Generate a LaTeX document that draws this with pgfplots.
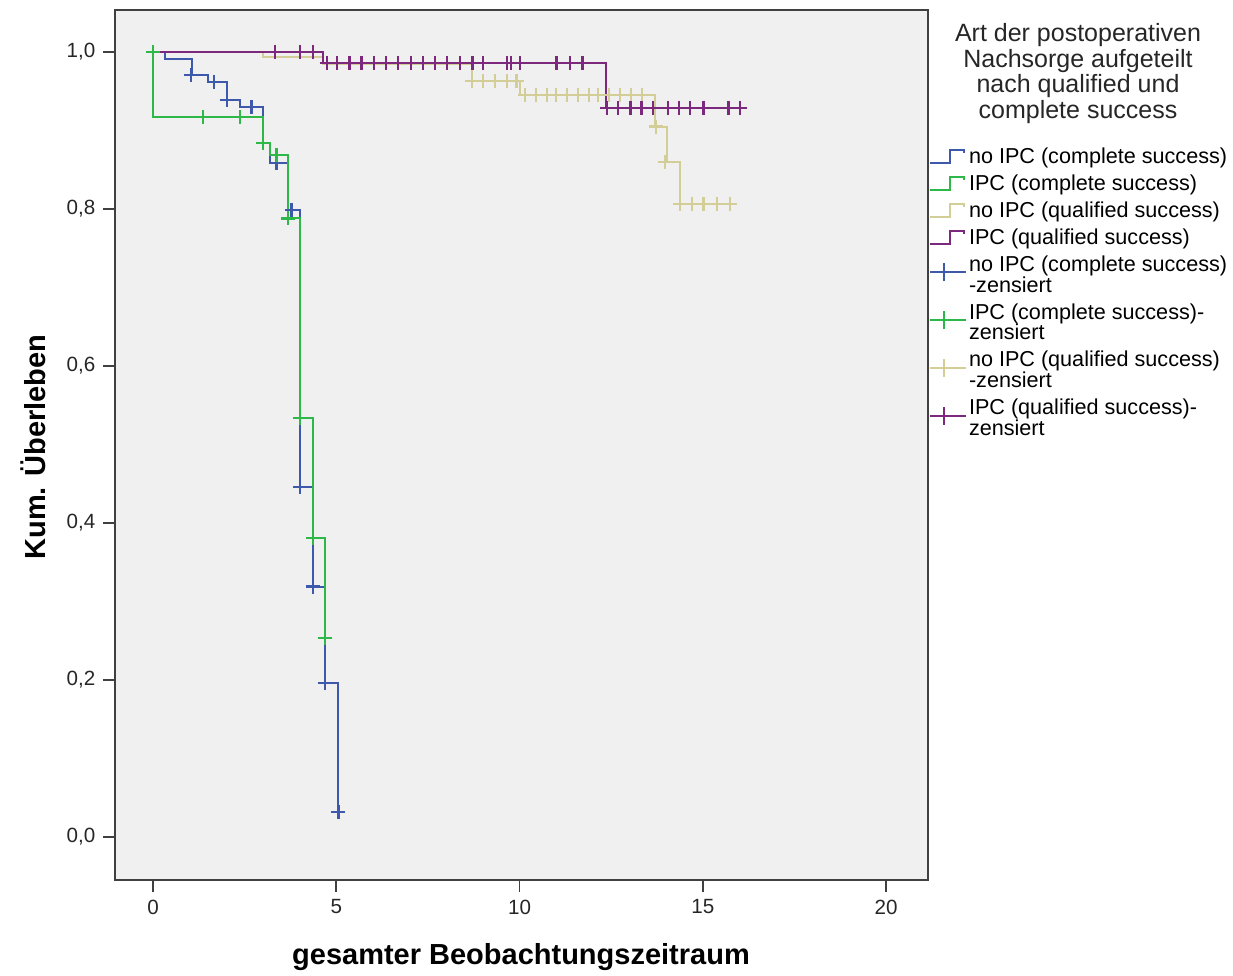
\documentclass[border=0pt]{standalone}
\usepackage{fontspec}
\setmainfont{Liberation Sans}
\usepackage{pgfplots}
\pgfplotsset{compat=1.18}
\definecolor{cblue}{HTML}{3E58AC}
\definecolor{cgreen}{HTML}{2EB848}
\definecolor{cbeige}{HTML}{D3CE97}
\definecolor{cpurple}{HTML}{7C287D}
\definecolor{bgc}{HTML}{F0F0F0}
\definecolor{framec}{HTML}{404040}
\begin{document}
\begin{tikzpicture}
\begin{axis}[name=ax, scale only axis, width=406.5pt, height=435pt,
  xmin=-1.037, xmax=21.146, ymin=-0.0548, ymax=1.0535,
  axis background/.style={fill=bgc},
  axis line style={framec, line width=1pt},
  xtick={0,5,10,15,20}, ytick={0,0.2,0.4,0.6,0.8,1.0},
  tick align=outside, major tick length=6pt,
  tick style={framec, line width=0.8pt},
  xtick pos=bottom, ytick pos=left,
  tick label style={font=\fontsize{10.3}{12}\selectfont, text=black!85},
  /pgf/number format/assume math mode=true,
  yticklabel style={/pgf/number format/.cd, fixed, fixed zerofill, precision=1, use comma},
  xlabel={gesamter Beobachtungszeitraum}, ylabel={Kum. Überleben},
  label style={font=\bfseries\fontsize{14.5}{16}\selectfont},
  xlabel style={at={(axis description cs:0.4994,-0.0885)}, anchor=center},
  ylabel style={at={(axis description cs:-0.1010,0.4977)}, anchor=center},
  legend cell align=left,
  legend style={at={(axis description cs:1.0,0.8455)}, anchor=north west, draw=none, fill=none,
    font=\fontsize{10.8}{9}\selectfont, inner sep=0pt, row sep=2.2pt, cells={align=left},
    nodes={inner sep=1pt}},
  line width=1pt,
]
% survival curves
\addplot[const plot, cblue, legend image code/.code={\draw[cblue,line width=1pt] (0pt,-3.3pt) -- (10pt,-3.3pt) -- (10pt,3.3pt) -- (17pt,3.3pt) -- (17pt,1.8pt);}]
 coordinates {(0,1.0) (0.33,0.991) (1.06,0.971) (1.51,0.962) (2.01,0.939) (2.37,0.930) (3.01,0.884) (3.2,0.859) (3.68,0.799) (4.01,0.446) (4.37,0.319) (4.69,0.196) (5.06,0.032) (5.07,0.032)};
\addlegendentry{no IPC (complete success)}
\addplot[const plot, cgreen, legend image code/.code={\draw[cgreen,line width=1pt] (0pt,-3.3pt) -- (10pt,-3.3pt) -- (10pt,3.3pt) -- (17pt,3.3pt) -- (17pt,1.8pt);}]
 coordinates {(0,1.0) (0,0.917) (3.01,0.884) (3.2,0.869) (3.68,0.788) (4.01,0.534) (4.37,0.381) (4.69,0.254) (4.87,0.254)};
\addlegendentry{IPC (complete success)}
\addplot[const plot, cbeige, legend image code/.code={\draw[cbeige,line width=1pt] (0pt,-3.3pt) -- (10pt,-3.3pt) -- (10pt,3.3pt) -- (17pt,3.3pt) -- (17pt,1.8pt);}]
 coordinates {(0,1.0) (3.01,0.993) (4.65,0.985) (8.7,0.963) (10.0,0.945) (13.7,0.905) (14.02,0.860) (14.38,0.806) (15.8,0.806)};
\addlegendentry{no IPC (qualified success)}
\addplot[const plot, cpurple, legend image code/.code={\draw[cpurple,line width=1pt] (0pt,-3.3pt) -- (10pt,-3.3pt) -- (10pt,3.3pt) -- (17pt,3.3pt) -- (17pt,1.8pt);}]
 coordinates {(0,1.0) (4.65,0.986) (12.35,0.929) (16.2,0.929)};
\addlegendentry{IPC (qualified success)}
% censored marks
\addplot[only marks, mark=+, mark size=3.5pt, cblue, mark options={line width=1.1pt},
  legend image code/.code={\draw[cblue,line width=1pt] (0pt,1.5pt) -- (18pt,1.5pt); \draw[cblue,line width=1pt] (7pt,-3pt) -- (7pt,6pt);}]
 coordinates {(1.04,0.971) (1.66,0.962) (2.01,0.939) (2.69,0.930) (3.01,0.884) (3.37,0.859) (3.78,0.799) (4.01,0.446) (4.37,0.319) (4.69,0.196) (5.06,0.032)};
\addlegendentry{no IPC (complete success)\\[-0.7pt]-zensiert}
\addplot[only marks, mark=+, mark size=3.5pt, cgreen, mark options={line width=1.1pt},
  legend image code/.code={\draw[cgreen,line width=1pt] (0pt,1.5pt) -- (18pt,1.5pt); \draw[cgreen,line width=1pt] (7pt,-3pt) -- (7pt,6pt);}]
 coordinates {(0,1.0) (1.37,0.917) (2.37,0.917) (3.01,0.884) (3.37,0.869) (3.68,0.788) (4.01,0.534) (4.37,0.381) (4.69,0.254)};
\addlegendentry{IPC (complete success)-\\[-0.7pt]zensiert}
\addplot[only marks, mark=+, mark size=3.5pt, cbeige, mark options={line width=1.1pt},
  legend image code/.code={\draw[cbeige,line width=1pt] (0pt,1.5pt) -- (18pt,1.5pt); \draw[cbeige,line width=1pt] (7pt,-3pt) -- (7pt,6pt);}]
 coordinates {(8.70,0.963) (9.01,0.963) (9.33,0.963) (9.65,0.963) (9.92,0.963)
  (10.15,0.945) (10.45,0.945) (10.75,0.945) (11.0,0.945) (11.3,0.945) (11.6,0.945) (11.9,0.945) (12.15,0.945) (12.45,0.945) (12.75,0.945) (13.05,0.945) (13.35,0.945)
  (13.72,0.905) (13.98,0.860) (14.38,0.806) (14.70,0.806) (15.02,0.806) (15.38,0.806) (15.74,0.806)};
\addlegendentry{no IPC (qualified success)\\[-0.7pt]-zensiert}
\addplot[only marks, mark=+, mark size=3.5pt, cpurple, mark options={line width=1.1pt},
  legend image code/.code={\draw[cpurple,line width=1pt] (0pt,1.5pt) -- (18pt,1.5pt); \draw[cpurple,line width=1pt] (7pt,-3pt) -- (7pt,6pt);}]
 coordinates {(3.33,1.0) (4.01,1.0) (4.36,1.0)
  (4.74,0.986) (5.03,0.986) (5.36,0.986) (5.69,0.986) (6.03,0.986) (6.36,0.986) (6.69,0.986) (7.03,0.986) (7.36,0.986) (7.69,0.986) (8.03,0.986) (8.38,0.986) (8.72,0.986) (9.01,0.986) (9.66,0.986) (9.76,0.986) (10.01,0.986) (11.01,0.986) (11.38,0.986) (11.72,0.986)
  (12.38,0.929) (12.69,0.929) (13.03,0.929) (13.33,0.929) (13.65,0.929) (14.06,0.929) (14.36,0.929) (14.65,0.929) (15.02,0.929) (15.70,0.929) (16.02,0.929)};
\addlegendentry{IPC (qualified success)-\\[-0.7pt]zensiert}
\end{axis}
\node[anchor=north, align=center, font=\fontsize{12.5}{12.8}\selectfont, inner sep=0pt, text=black!85]
  at ([shift={(75pt,-6.5pt)}]ax.north east)
  {Art der postoperativen\\Nachsorge aufgeteilt\\nach qualified und\\complete success};
\pgfresetboundingbox
\path ([shift={(-57.5pt,-47.5pt)}]ax.south west) rectangle ([shift={(152.5pt,5pt)}]ax.north east);
\end{tikzpicture}
\end{document}
